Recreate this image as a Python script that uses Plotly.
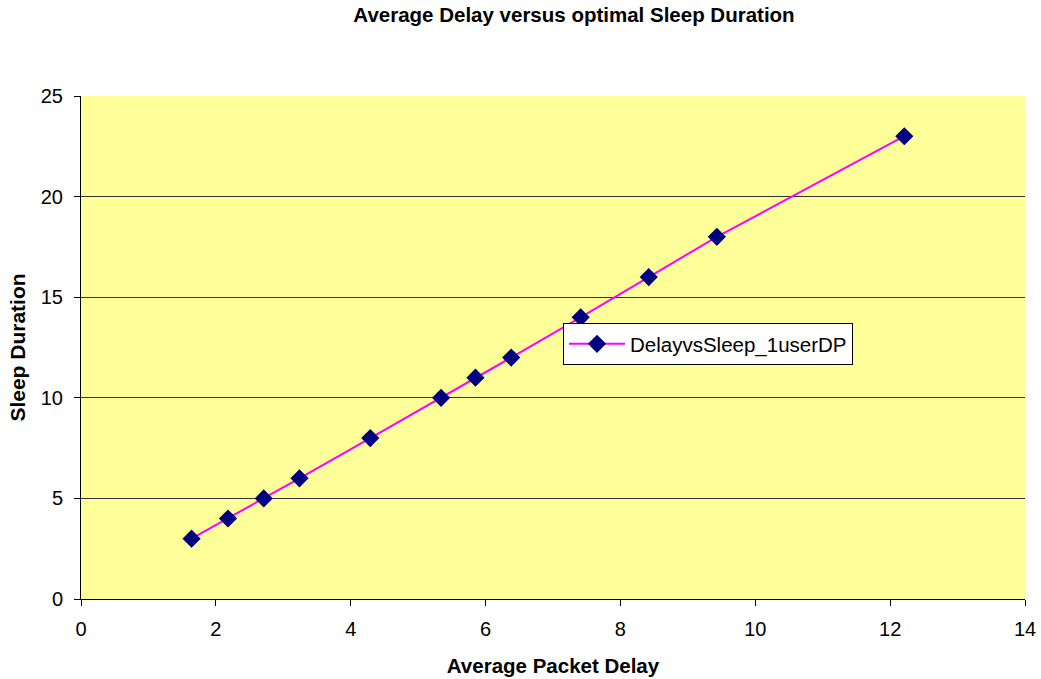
import plotly.graph_objects as go

delay = [1.64, 2.18, 2.71, 3.24, 4.29, 5.34, 5.85, 6.38, 7.41, 8.42, 9.43, 12.21]
sleep = [3, 4, 5, 6, 8, 10, 11, 12, 14, 16, 18, 23]
series_name = "DelayvsSleep_1userDP"

fig = go.Figure()
fig.add_trace(go.Scatter(
    x=delay, y=sleep, mode="lines+markers", name=series_name,
    line=dict(color="#FF00FF", width=2),
    marker=dict(symbol="diamond", size=14, color="#000080", line=dict(width=0)),
))

font = "Liberation Sans, Arial, sans-serif"
fig.update_layout(
    width=1041, height=679,
    margin=dict(l=81, r=16, t=96, b=80, autoexpand=False),
    paper_bgcolor="white", plot_bgcolor="#FFFF99",
    font=dict(family=font, size=20, color="black"),
    title=dict(text="<b>Average Delay versus optimal Sleep Duration</b>",
               x=574/1041, xanchor="center", y=1 - 15/679, yanchor="middle",
               font=dict(size=20.5)),
    showlegend=True,
    legend=dict(x=(563-81)/944, y=(599-323)/503, xanchor="left", yanchor="top",
                bgcolor="white", bordercolor="black", borderwidth=1,
                font=dict(size=20.5), itemwidth=56, tracegroupgap=0),
    xaxis=dict(range=[0, 14], dtick=2, showgrid=False, zeroline=False, automargin=False,
               showline=True, linecolor="black", linewidth=1,
               ticks="outside", ticklen=6, tickcolor="black", ticklabelstandoff=6,
               title=dict(text="<b>Average Packet Delay</b>", font=dict(size=20.5), standoff=19)),
    yaxis=dict(range=[0, 25], dtick=5, showgrid=True, gridcolor="#333333", gridwidth=1,
               zeroline=False, showline=True, linecolor="black", linewidth=1, automargin=False,
               ticks="outside", ticklen=6, tickcolor="black", ticklabelstandoff=7,
               title=dict(text="<b>Sleep Duration</b>", font=dict(size=21), standoff=9)),
)

fig.write_html("out.html")
